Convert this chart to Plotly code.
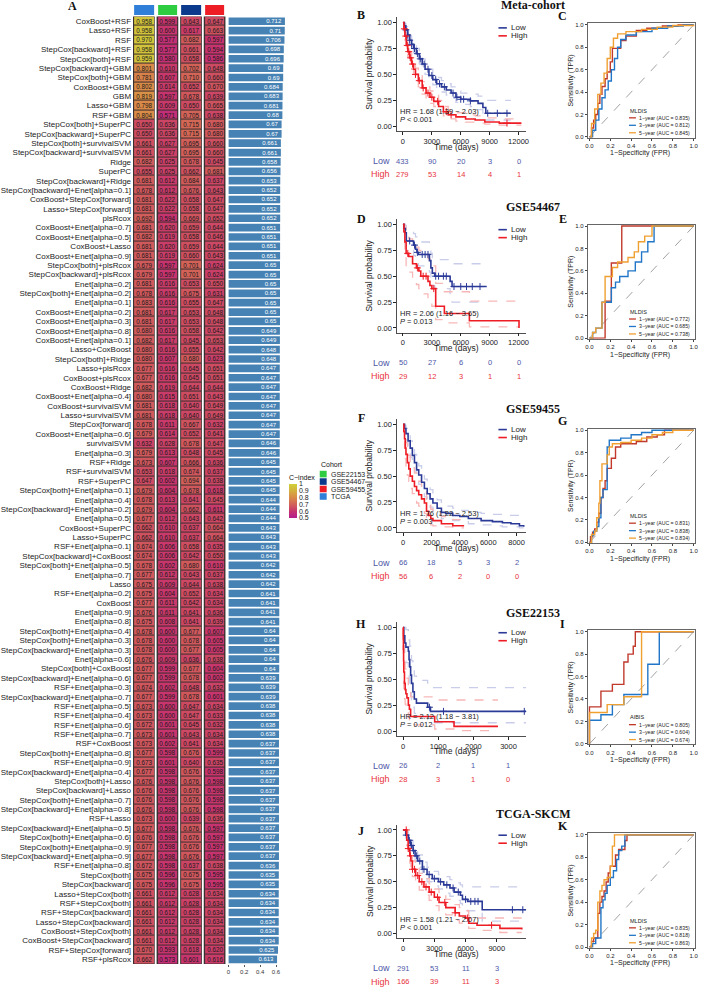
import numpy as np
import plotly.graph_objects as go

W, H = 702, 991
SANS = "Liberation Sans, Arial, sans-serif"
SERIF = "Liberation Serif, Times New Roman, serif"


def px(x):
    return x / W


def py(y):
    return 1 - y / H


# -----------------------------------------------------------------------------
# A: C-index heatmap data
models = [
    "CoxBoost+RSF", "Lasso+RSF", "RSF", "StepCox[backward]+RSF", "StepCox[both]+RSF",
    "StepCox[backward]+GBM", "StepCox[both]+GBM", "CoxBoost+GBM", "GBM", "Lasso+GBM",
    "RSF+GBM", "StepCox[both]+SuperPC", "StepCox[backward]+SuperPC",
    "StepCox[both]+survivalSVM", "StepCox[backward]+survivalSVM", "Ridge", "SuperPC",
    "StepCox[backward]+Ridge", "StepCox[backward]+Enet[alpha=0.1]",
    "CoxBoost+StepCox[forward]", "Lasso+StepCox[forward]", "plsRcox",
    "CoxBoost+Enet[alpha=0.7]", "CoxBoost+Enet[alpha=0.5]",
    "CoxBoost+Lasso", "CoxBoost+Enet[alpha=0.9]", "StepCox[both]+plsRcox",
    "StepCox[backward]+plsRcox", "Enet[alpha=0.2]", "StepCox[both]+Enet[alpha=0.2]",
    "Enet[alpha=0.1]", "CoxBoost+Enet[alpha=0.2]", "CoxBoost+Enet[alpha=0.3]",
    "CoxBoost+Enet[alpha=0.8]", "CoxBoost+Enet[alpha=0.1]", "Lasso+CoxBoost",
    "StepCox[both]+Ridge", "Lasso+plsRcox", "CoxBoost+plsRcox", "CoxBoost+Ridge",
    "CoxBoost+Enet[alpha=0.4]", "CoxBoost+survivalSVM", "Lasso+survivalSVM",
    "StepCox[forward]", "CoxBoost+Enet[alpha=0.6]", "survivalSVM", "Enet[alpha=0.3]",
    "RSF+Ridge",
    "RSF+survivalSVM", "RSF+SuperPC", "StepCox[both]+Enet[alpha=0.1]", "Enet[alpha=0.4]",
    "StepCox[backward]+Enet[alpha=0.2]", "Enet[alpha=0.5]", "CoxBoost+SuperPC",
    "Lasso+SuperPC", "RSF+Enet[alpha=0.1]", "StepCox[backward]+CoxBoost",
    "StepCox[both]+Enet[alpha=0.5]", "Enet[alpha=0.7]", "Lasso", "RSF+Enet[alpha=0.2]",
    "CoxBoost", "Enet[alpha=0.9]", "Enet[alpha=0.8]", "StepCox[both]+Enet[alpha=0.4]",
    "StepCox[both]+Enet[alpha=0.3]", "StepCox[backward]+Enet[alpha=0.3]",
    "Enet[alpha=0.6]", "StepCox[both]+CoxBoost", "StepCox[backward]+Enet[alpha=0.6]",
    "RSF+Enet[alpha=0.3]",
    "StepCox[backward]+Enet[alpha=0.7]", "RSF+Enet[alpha=0.5]", "RSF+Enet[alpha=0.4]",
    "RSF+Enet[alpha=0.6]", "RSF+Enet[alpha=0.7]", "RSF+CoxBoost",
    "StepCox[both]+Enet[alpha=0.8]", "RSF+Enet[alpha=0.9]",
    "StepCox[backward]+Enet[alpha=0.4]", "StepCox[both]+Lasso", "StepCox[backward]+Lasso",
    "StepCox[both]+Enet[alpha=0.7]", "StepCox[backward]+Enet[alpha=0.8]", "RSF+Lasso",
    "StepCox[backward]+Enet[alpha=0.5]", "StepCox[both]+Enet[alpha=0.6]",
    "StepCox[both]+Enet[alpha=0.9]", "StepCox[backward]+Enet[alpha=0.9]",
    "RSF+Enet[alpha=0.8]", "StepCox[both]", "StepCox[backward]", "Lasso+StepCox[both]",
    "RSF+StepCox[both]", "RSF+StepCox[backward]", "Lasso+StepCox[backward]",
    "CoxBoost+StepCox[both]", "CoxBoost+StepCox[backward]", "RSF+StepCox[forward]",
    "RSF+plsRcox",
]

c_tcga = [
    0.958, 0.958, 0.970, 0.958, 0.959, 0.801, 0.781, 0.802, 0.819, 0.798, 0.804, 0.650,
    0.650, 0.661, 0.661, 0.682, 0.655, 0.681, 0.678, 0.681, 0.681, 0.692, 0.681, 0.682,
    0.681, 0.681, 0.679, 0.679, 0.681, 0.678, 0.683, 0.681, 0.681, 0.680, 0.682, 0.680,
    0.680, 0.677, 0.677, 0.682, 0.680, 0.681, 0.681, 0.678, 0.679, 0.632, 0.679, 0.673,
    0.653, 0.647, 0.679, 0.678, 0.679, 0.677, 0.662, 0.662, 0.674, 0.674, 0.678, 0.677,
    0.675, 0.675, 0.677, 0.676, 0.675, 0.678, 0.678, 0.678, 0.676, 0.677, 0.677, 0.674,
    0.677, 0.673, 0.673, 0.672, 0.673, 0.673, 0.677, 0.673, 0.677, 0.676, 0.676, 0.676,
    0.676, 0.673, 0.677, 0.676, 0.677, 0.677, 0.672, 0.675, 0.675, 0.661, 0.661, 0.661,
    0.661, 0.661, 0.661, 0.670, 0.662,
]
c_gse22153 = [
    0.599, 0.600, 0.577, 0.577, 0.580, 0.610, 0.607, 0.614, 0.597, 0.609, 0.571, 0.636,
    0.636, 0.627, 0.627, 0.625, 0.625, 0.612, 0.612, 0.622, 0.622, 0.594, 0.620, 0.619,
    0.620, 0.619, 0.597, 0.597, 0.616, 0.616, 0.616, 0.617, 0.617, 0.616, 0.617, 0.616,
    0.607, 0.616, 0.616, 0.619, 0.615, 0.618, 0.618, 0.611, 0.614, 0.628, 0.613, 0.607,
    0.618, 0.602, 0.604, 0.613, 0.604, 0.612, 0.610, 0.610, 0.606, 0.606, 0.602, 0.612,
    0.609, 0.604, 0.611, 0.611, 0.608, 0.600, 0.600, 0.600, 0.609, 0.599, 0.599, 0.602,
    0.599, 0.600, 0.600, 0.601, 0.601, 0.602, 0.598, 0.601, 0.598, 0.598, 0.598, 0.598,
    0.598, 0.600, 0.598, 0.598, 0.598, 0.598, 0.598, 0.596, 0.596, 0.612, 0.612, 0.612,
    0.612, 0.612, 0.612, 0.593, 0.573,
]
c_gse54467 = [
    0.643, 0.617, 0.682, 0.661, 0.658, 0.702, 0.710, 0.652, 0.678, 0.650, 0.705, 0.715,
    0.715, 0.695, 0.695, 0.678, 0.662, 0.684, 0.676, 0.658, 0.658, 0.669, 0.659, 0.658,
    0.659, 0.660, 0.701, 0.701, 0.653, 0.675, 0.655, 0.653, 0.653, 0.658, 0.645, 0.655,
    0.680, 0.645, 0.645, 0.644, 0.651, 0.640, 0.640, 0.667, 0.652, 0.678, 0.648, 0.666,
    0.674, 0.694, 0.678, 0.641, 0.662, 0.643, 0.637, 0.637, 0.658, 0.642, 0.680, 0.643,
    0.644, 0.652, 0.642, 0.641, 0.641, 0.677, 0.678, 0.677, 0.636, 0.677, 0.678, 0.648,
    0.678, 0.647, 0.647, 0.645, 0.643, 0.641, 0.676, 0.640, 0.676, 0.676, 0.676, 0.676,
    0.676, 0.639, 0.676, 0.676, 0.676, 0.676, 0.637, 0.675, 0.675, 0.628, 0.628, 0.628,
    0.628, 0.628, 0.628, 0.618, 0.601,
]
c_gse59455 = [
    0.647, 0.663, 0.597, 0.594, 0.586, 0.648, 0.660, 0.670, 0.639, 0.665, 0.638, 0.680,
    0.680, 0.660, 0.660, 0.645, 0.681, 0.637, 0.643, 0.647, 0.647, 0.652, 0.644, 0.646,
    0.644, 0.643, 0.624, 0.624, 0.650, 0.631, 0.647, 0.648, 0.648, 0.642, 0.653, 0.642,
    0.623, 0.651, 0.651, 0.644, 0.643, 0.649, 0.649, 0.632, 0.641, 0.647, 0.645, 0.636,
    0.637, 0.638, 0.618, 0.645, 0.611, 0.642, 0.664, 0.664, 0.635, 0.650, 0.610, 0.637,
    0.638, 0.634, 0.634, 0.636, 0.639, 0.607, 0.605, 0.605, 0.638, 0.604, 0.602, 0.632,
    0.601, 0.634, 0.633, 0.632, 0.634, 0.634, 0.599, 0.635, 0.598, 0.598, 0.598, 0.598,
    0.598, 0.636, 0.597, 0.597, 0.597, 0.597, 0.638, 0.595, 0.595, 0.634, 0.634, 0.634,
    0.634, 0.634, 0.634, 0.620, 0.616,
]
mean_cindex = [
    0.712, 0.71, 0.706, 0.698, 0.696, 0.69, 0.69, 0.684, 0.683, 0.681, 0.68, 0.67,
    0.67, 0.661, 0.661, 0.658, 0.656, 0.653, 0.652, 0.652, 0.652, 0.652, 0.651, 0.651,
    0.651, 0.651, 0.65, 0.65, 0.65, 0.65, 0.65, 0.65, 0.65, 0.649, 0.649, 0.648,
    0.648, 0.647, 0.647, 0.647, 0.647, 0.647, 0.647, 0.647, 0.647, 0.646, 0.646, 0.645,
    0.645, 0.645, 0.645, 0.644, 0.644, 0.644, 0.643, 0.643, 0.643, 0.643, 0.642, 0.642,
    0.642, 0.641, 0.641, 0.641, 0.641, 0.64, 0.64, 0.64, 0.64, 0.64, 0.639, 0.639,
    0.639, 0.638, 0.638, 0.638, 0.638, 0.637, 0.637, 0.637, 0.637, 0.637, 0.637, 0.637,
    0.637, 0.637, 0.637, 0.637, 0.637, 0.637, 0.636, 0.635, 0.635, 0.634, 0.634, 0.634,
    0.634, 0.634, 0.634, 0.625, 0.613,
]

heat_cohorts = ["TCGA", "GSE22153", "GSE54467", "GSE59455"]
legend_cohorts = ["GSE22153", "GSE54467", "GSE59455", "TCGA"]
cohort_colors = {"GSE22153": "#2ecc40", "GSE54467": "#0b3a8c",
                 "GSE59455": "#ee1c25", "TCGA": "#2f7ed8"}
cindex_ticks = [0.5, 0.6, 0.7, 0.8, 0.9, 1.0]

# -----------------------------------------------------------------------------
# B/D/F/H/J: Kaplan-Meier data (time in days, survival, CI upper / lower)
meta_low_t = [0, 150, 300, 500, 700, 900, 1100, 1400, 1700, 2000, 2300, 2700, 3100, 3500,
              4000, 4500, 5000, 5500, 6000, 7000, 7800, 8300, 8600, 11200]
meta_low_s = [1.0, 0.97, 0.93, 0.88, 0.83, 0.79, 0.75, 0.70, 0.65, 0.60, 0.55, 0.49, 0.45,
              0.41, 0.38, 0.35, 0.32, 0.28, 0.26, 0.245, 0.22, 0.18, 0.125, 0.125]
meta_low_up = [1.0, 0.99, 0.96, 0.92, 0.87, 0.83, 0.80, 0.75, 0.70, 0.65, 0.60, 0.55, 0.51,
               0.47, 0.44, 0.41, 0.38, 0.34, 0.32, 0.31, 0.29, 0.26, 0.25, 0.25]
meta_low_dn = [1.0, 0.95, 0.90, 0.84, 0.79, 0.75, 0.71, 0.66, 0.60, 0.55, 0.50, 0.44, 0.40,
               0.36, 0.33, 0.30, 0.27, 0.23, 0.21, 0.19, 0.16, 0.12, 0.06, 0.06]
meta_high_t = [0, 100, 200, 350, 500, 700, 900, 1100, 1300, 1600, 2000, 2400, 2800, 3200,
               3700, 4200, 4700, 5500, 6500, 7500, 8500, 10000, 12300]
meta_high_s = [1.0, 0.94, 0.87, 0.78, 0.72, 0.66, 0.60, 0.55, 0.50, 0.44, 0.37, 0.32, 0.28,
               0.24, 0.19, 0.14, 0.11, 0.09, 0.07, 0.06, 0.04, 0.03, 0.03]
meta_high_up = [1.0, 0.97, 0.91, 0.83, 0.77, 0.71, 0.65, 0.60, 0.56, 0.50, 0.43, 0.38, 0.34,
                0.30, 0.25, 0.19, 0.16, 0.13, 0.11, 0.10, 0.08, 0.07, 0.07]
meta_high_dn = [1.0, 0.91, 0.83, 0.73, 0.67, 0.61, 0.55, 0.49, 0.44, 0.38, 0.31, 0.26, 0.22,
                0.19, 0.14, 0.10, 0.07, 0.05, 0.04, 0.03, 0.02, 0.01, 0.01]
meta_low_cens = [300, 500, 700, 900, 1200, 1500, 1800, 2200, 2600, 3000, 3400, 3800, 4300,
                 5200, 5600, 6000, 6300, 7000, 8800, 9800, 10800]
meta_high_cens = [150, 300, 450, 600, 800, 1000, 1300, 1700, 2100, 2600, 3000, 3600, 4500,
                  5000, 10800]

gse54467_low_t = [0, 100, 250, 350, 1100, 1300, 1450, 1600, 2750, 2900, 3050, 3300, 4900,
                  5100, 8700]
gse54467_low_s = [1.0, 0.96, 0.92, 0.84, 0.80, 0.76, 0.73, 0.71, 0.65, 0.58, 0.53, 0.50,
                  0.45, 0.40, 0.40]
gse54467_low_up = [1.0, 1.0, 0.99, 0.94, 0.91, 0.88, 0.86, 0.83, 0.78, 0.72, 0.68, 0.66,
                   0.62, 0.62, 0.62]
gse54467_low_dn = [1.0, 0.91, 0.85, 0.75, 0.70, 0.66, 0.62, 0.60, 0.54, 0.46, 0.41, 0.38,
                   0.32, 0.25, 0.25]
gse54467_high_t = [0, 100, 200, 330, 600, 1000, 1400, 1650, 1850, 2600, 2800, 3000, 3400,
                   4300, 6900, 12050]
gse54467_high_s = [1.0, 0.93, 0.83, 0.72, 0.69, 0.62, 0.58, 0.55, 0.50, 0.45, 0.41, 0.38,
                   0.21, 0.14, 0.07, 0.0]
gse54467_high_up = [1.0, 1.0, 0.97, 0.89, 0.86, 0.81, 0.78, 0.75, 0.71, 0.67, 0.63, 0.60,
                    0.43, 0.35, 0.26, 0.26]
gse54467_high_dn = [1.0, 0.84, 0.70, 0.57, 0.54, 0.46, 0.42, 0.38, 0.33, 0.28, 0.24, 0.21,
                    0.08, 0.05, 0.01, 0.01]
gse54467_low_cens = [700, 1200, 1500, 2000, 2300, 2600, 3400, 3700, 4200, 4500, 5300, 6000,
                     6600, 7200, 8000]
gse54467_high_cens = [500, 1500, 2100, 2400, 3200]

gse59455_low_t = [0, 100, 200, 350, 500, 650, 800, 950, 1100, 1300, 1500, 1700, 1900, 2100,
                  2400, 2700, 3000, 3500, 4000, 4600, 5500, 6300, 7000, 7600, 8200, 8500]
gse59455_low_s = [1.0, 0.96, 0.91, 0.84, 0.77, 0.70, 0.63, 0.56, 0.51, 0.44, 0.38, 0.33,
                  0.28, 0.24, 0.19, 0.15, 0.14, 0.12, 0.11, 0.09, 0.07, 0.06, 0.05, 0.04,
                  0.02, 0.01]
gse59455_low_up = [1.0, 0.99, 0.96, 0.90, 0.84, 0.78, 0.71, 0.65, 0.60, 0.53, 0.47, 0.42,
                   0.37, 0.32, 0.27, 0.23, 0.21, 0.19, 0.17, 0.15, 0.14, 0.13, 0.12, 0.12,
                   0.11, 0.10]
gse59455_low_dn = [1.0, 0.91, 0.85, 0.76, 0.68, 0.61, 0.54, 0.47, 0.42, 0.35, 0.30, 0.25,
                   0.20, 0.17, 0.13, 0.09, 0.08, 0.07, 0.06, 0.04, 0.03, 0.02, 0.01, 0.01,
                   0.0, 0.0]
gse59455_high_t = [0, 50, 100, 150, 200, 300, 400, 500, 650, 800, 950, 1100, 1300, 1500,
                   1650, 1800, 1950, 2100, 2700, 3500, 4300]
gse59455_high_s = [1.0, 0.93, 0.86, 0.77, 0.71, 0.63, 0.57, 0.50, 0.45, 0.40, 0.36, 0.32,
                   0.28, 0.24, 0.16, 0.12, 0.09, 0.07, 0.04, 0.02, 0.02]
gse59455_high_up = [1.0, 0.98, 0.94, 0.87, 0.82, 0.75, 0.70, 0.63, 0.58, 0.53, 0.49, 0.45,
                    0.40, 0.36, 0.27, 0.22, 0.18, 0.15, 0.11, 0.08, 0.08]
gse59455_high_dn = [1.0, 0.87, 0.78, 0.67, 0.60, 0.51, 0.45, 0.38, 0.33, 0.28, 0.24, 0.21,
                    0.17, 0.14, 0.08, 0.05, 0.03, 0.02, 0.01, 0.0, 0.0]
gse59455_low_cens = []
gse59455_high_cens = []

gse22153_low_t = [0, 20, 50, 80, 150, 170, 190, 215, 240, 280, 320, 380, 700, 780, 3500]
gse22153_low_s = [1.0, 0.92, 0.85, 0.81, 0.77, 0.69, 0.62, 0.54, 0.46, 0.38, 0.31, 0.27,
                  0.23, 0.19, 0.19]
gse22153_low_up = [1.0, 1.0, 1.0, 0.98, 0.95, 0.88, 0.82, 0.75, 0.68, 0.60, 0.53, 0.49,
                   0.45, 0.42, 0.42]
gse22153_low_dn = [1.0, 0.82, 0.72, 0.66, 0.61, 0.52, 0.45, 0.37, 0.30, 0.23, 0.17, 0.14,
                   0.11, 0.08, 0.08]
gse22153_high_t = [0, 5, 10, 15, 20, 40, 60, 80, 110, 150, 180, 215, 900, 1450, 2700]
gse22153_high_s = [1.0, 0.89, 0.79, 0.68, 0.57, 0.46, 0.40, 0.36, 0.32, 0.25, 0.21, 0.14,
                   0.09, 0.045, 0.045]
gse22153_high_up = [1.0, 0.99, 0.94, 0.86, 0.76, 0.66, 0.60, 0.55, 0.51, 0.44, 0.40, 0.33,
                    0.30, 0.30, 0.30]
gse22153_high_dn = [1.0, 0.78, 0.64, 0.52, 0.41, 0.31, 0.26, 0.22, 0.19, 0.13, 0.10, 0.06,
                    0.02, 0.005, 0.005]
gse22153_low_cens = [750, 1150, 3450]
gse22153_high_cens = []

tcga_low_t = [0, 250, 500, 730, 950, 1150, 1400, 1850, 2300, 2800, 3400, 3900, 4500, 4900,
              5500, 5700, 6200, 7600, 11800]
tcga_low_s = [1.0, 0.95, 0.90, 0.85, 0.80, 0.75, 0.70, 0.62, 0.57, 0.53, 0.50, 0.47, 0.44,
              0.40, 0.37, 0.33, 0.31, 0.23, 0.23]
tcga_low_up = [1.0, 0.98, 0.94, 0.90, 0.85, 0.81, 0.76, 0.69, 0.64, 0.60, 0.57, 0.55, 0.52,
               0.49, 0.47, 0.45, 0.45, 0.45, 0.45]
tcga_low_dn = [1.0, 0.92, 0.86, 0.80, 0.75, 0.69, 0.64, 0.56, 0.50, 0.46, 0.43, 0.39, 0.36,
               0.32, 0.29, 0.24, 0.22, 0.12, 0.12]
tcga_high_t = [0, 350, 480, 640, 750, 890, 1200, 1550, 2000, 2500, 3000, 3450, 4100, 5000,
               5400, 6000, 6300, 7100, 9300, 11400]
tcga_high_s = [1.0, 0.90, 0.82, 0.75, 0.70, 0.62, 0.56, 0.50, 0.45, 0.40, 0.35, 0.30, 0.25,
               0.20, 0.17, 0.15, 0.10, 0.08, 0.05, 0.04]
tcga_high_up = [1.0, 0.95, 0.88, 0.82, 0.77, 0.70, 0.64, 0.58, 0.53, 0.48, 0.43, 0.38, 0.33,
                0.28, 0.25, 0.22, 0.17, 0.15, 0.15, 0.15]
tcga_high_dn = [1.0, 0.85, 0.76, 0.68, 0.63, 0.55, 0.48, 0.42, 0.37, 0.32, 0.27, 0.22, 0.18,
                0.13, 0.10, 0.08, 0.05, 0.03, 0.01, 0.01]
tcga_low_cens = [300, 600, 800, 1000, 1300, 1600, 2000, 2500, 3000, 3600, 4200, 4800, 5300,
                 6000, 6500, 6900, 7200, 10500, 11500]
tcga_high_cens = [300, 500, 700, 900, 1100, 1400, 1800, 2200, 2700, 3300, 4000, 5000, 6200,
                  8500]

# number at risk tables
meta_risk_t = [0, 3000, 6000, 9000, 12000]
meta_risk_low = [433, 90, 20, 3, 0]
meta_risk_high = [279, 53, 14, 4, 1]
gse54467_risk_t = [0, 3000, 6000, 9000, 12000]
gse54467_risk_low = [50, 27, 6, 0, 0]
gse54467_risk_high = [29, 12, 3, 1, 1]
gse59455_risk_t = [0, 2000, 4000, 6000, 8000]
gse59455_risk_low = [66, 18, 5, 3, 2]
gse59455_risk_high = [56, 6, 2, 0, 0]
gse22153_risk_t = [0, 1000, 2000, 3000]
gse22153_risk_low = [26, 2, 1, 1]
gse22153_risk_high = [28, 3, 1, 0]
tcga_risk_t = [0, 3000, 6000, 9000]
tcga_risk_low = [291, 53, 11, 3]
tcga_risk_high = [166, 39, 11, 3]

hr_text = ["HR = 1.68 (1.39 − 2.03)", "HR = 2.06 (1.16 − 3.65)", "HR = 1.76 (1.22 − 2.53)",
           "HR = 2.12 (1.18 − 3.81)", "HR = 1.58 (1.21 − 2.07)"]
p_text = ["&lt; 0.001", "= 0.013", "= 0.003", "= 0.012", "&lt; 0.001"]

# -----------------------------------------------------------------------------
# C/E/G/I/K: time-dependent ROC data
meta_roc1_fpr = [0, 0.02, 0.04, 0.06, 0.08, 0.10, 0.12, 0.15, 0.17, 0.20, 0.22, 0.27, 0.30,
                 0.35, 0.45, 0.55, 0.70, 0.85, 1.0]
meta_roc1_tpr = [0, 0.08, 0.15, 0.20, 0.30, 0.38, 0.45, 0.52, 0.58, 0.67, 0.79, 0.79, 0.86,
                 0.90, 0.95, 0.97, 0.99, 1.0, 1.0]
meta_roc3_fpr = [0, 0.03, 0.06, 0.09, 0.12, 0.15, 0.18, 0.21, 0.24, 0.27, 0.30, 0.35, 0.45,
                 0.60, 0.75, 0.90, 1.0]
meta_roc3_tpr = [0, 0.06, 0.15, 0.25, 0.35, 0.42, 0.50, 0.60, 0.70, 0.80, 0.87, 0.91, 0.94,
                 0.97, 0.99, 1.0, 1.0]
meta_roc5_fpr = [0, 0.02, 0.05, 0.08, 0.11, 0.14, 0.17, 0.20, 0.23, 0.27, 0.35, 0.50, 0.65,
                 0.80, 1.0]
meta_roc5_tpr = [0, 0.12, 0.25, 0.38, 0.48, 0.57, 0.70, 0.80, 0.88, 0.92, 0.94, 0.96, 0.98,
                 0.995, 1.0]
meta_auc = [0.835, 0.812, 0.845]

gse54467_roc1_fpr = [0, 0.15, 0.21, 0.31, 1.0]
gse54467_roc1_tpr = [0, 0.33, 0.67, 1.0, 1.0]
gse54467_roc3_fpr = [0, 0.03, 0.06, 0.12, 0.21, 0.25, 0.29, 0.37, 0.44, 0.50, 0.56, 0.62, 1.0]
gse54467_roc3_tpr = [0, 0.05, 0.09, 0.32, 0.45, 0.50, 0.55, 0.60, 0.68, 0.77, 0.86, 1.0, 1.0]
gse54467_roc5_fpr = [0, 0.03, 0.06, 0.12, 0.15, 0.22, 0.27, 0.37, 0.43, 0.47, 0.53, 0.60, 1.0]
gse54467_roc5_tpr = [0, 0.05, 0.09, 0.32, 0.55, 0.63, 0.68, 0.72, 0.77, 0.86, 0.91, 1.0, 1.0]
gse54467_auc = [0.772, 0.685, 0.738]

gse59455_roc1_fpr = [0, 0.01, 0.03, 0.05, 0.07, 0.09, 0.11, 0.13, 0.15, 0.17, 0.19, 0.21,
                     0.25, 0.30, 0.35, 0.45, 0.55, 0.65, 0.72, 1.0]
gse59455_roc1_tpr = [0, 0.05, 0.09, 0.12, 0.18, 0.26, 0.40, 0.48, 0.55, 0.66, 0.66, 0.75,
                     0.85, 0.88, 0.88, 0.90, 0.94, 0.96, 1.0, 1.0]
gse59455_roc3_fpr = [0, 0.02, 0.04, 0.07, 0.09, 0.11, 0.13, 0.15, 0.17, 0.19, 0.22, 0.30,
                     0.40, 0.50, 0.60, 1.0]
gse59455_roc3_tpr = [0, 0.06, 0.10, 0.14, 0.22, 0.40, 0.47, 0.47, 0.85, 0.91, 0.91, 0.93,
                     0.96, 0.98, 1.0, 1.0]
gse59455_roc5_fpr = [0, 0.02, 0.05, 0.07, 0.09, 0.10, 0.12, 0.14, 0.17, 0.19, 0.22, 0.30,
                     0.40, 0.50, 0.60, 0.70, 0.80, 1.0]
gse59455_roc5_tpr = [0, 0.07, 0.10, 0.22, 0.35, 0.55, 0.70, 0.70, 0.78, 0.85, 0.88, 0.89,
                     0.91, 0.93, 0.96, 0.98, 1.0, 1.0]
gse59455_auc = [0.831, 0.838, 0.834]

gse22153_roc1_fpr = [0, 0.0, 0.11, 0.22, 0.33, 0.37, 0.42, 0.44, 1.0]
gse22153_roc1_tpr = [0, 0.33, 0.47, 0.53, 0.73, 0.80, 0.87, 1.0, 1.0]
gse22153_roc3_fpr = [0, 0.0, 0.11, 0.22, 0.33, 0.56, 0.67, 1.0]
gse22153_roc3_tpr = [0, 0.21, 0.26, 0.35, 0.44, 0.71, 1.0, 1.0]
gse22153_roc5_fpr = [0, 0.0, 0.17, 0.33, 0.50, 1.0]
gse22153_roc5_tpr = [0, 0.28, 0.35, 0.42, 1.0, 1.0]
gse22153_auc = [0.805, 0.604, 0.674]

tcga_roc1_fpr = [0, 0.02, 0.04, 0.06, 0.08, 0.10, 0.12, 0.14, 0.16, 0.18, 0.20, 0.22, 0.25,
                 0.28, 0.30, 0.34, 0.36, 1.0]
tcga_roc1_tpr = [0, 0.05, 0.08, 0.08, 0.30, 0.40, 0.45, 0.50, 0.58, 0.66, 0.72, 0.72, 0.82,
                 0.87, 0.87, 0.95, 1.0, 1.0]
tcga_roc3_fpr = [0, 0.03, 0.06, 0.09, 0.11, 0.13, 0.15, 0.17, 0.20, 0.23, 0.26, 0.28, 0.31,
                 0.34, 1.0]
tcga_roc3_tpr = [0, 0.03, 0.08, 0.08, 0.35, 0.42, 0.48, 0.55, 0.62, 0.68, 0.78, 0.86, 0.90,
                 1.0, 1.0]
tcga_roc5_fpr = [0, 0.02, 0.04, 0.06, 0.08, 0.10, 0.12, 0.14, 0.17, 0.20, 0.22, 0.24, 1.0]
tcga_roc5_tpr = [0, 0.08, 0.12, 0.15, 0.40, 0.50, 0.55, 0.60, 0.62, 0.72, 0.90, 1.0, 1.0]
tcga_auc = [0.835, 0.818, 0.863]

roc_years = ["1−year", "3−year", "5−year"]
roc_colors = ["#c0392b", "#2176c7", "#f0a030"]

# -----------------------------------------------------------------------------
# panels, top to bottom
panels = [
    dict(title="Meta-cohort", letters=("B", "C"), model="MLDIS",
         low=(meta_low_t, meta_low_s, meta_low_up, meta_low_dn, meta_low_cens),
         high=(meta_high_t, meta_high_s, meta_high_up, meta_high_dn, meta_high_cens),
         risk=(meta_risk_t, meta_risk_low, meta_risk_high), xrange=[-600, 12800],
         roc=[(meta_roc1_fpr, meta_roc1_tpr), (meta_roc3_fpr, meta_roc3_tpr),
              (meta_roc5_fpr, meta_roc5_tpr)], auc=meta_auc),
    dict(title="GSE54467", letters=("D", "E"), model="MLDIS",
         low=(gse54467_low_t, gse54467_low_s, gse54467_low_up, gse54467_low_dn,
              gse54467_low_cens),
         high=(gse54467_high_t, gse54467_high_s, gse54467_high_up, gse54467_high_dn,
               gse54467_high_cens),
         risk=(gse54467_risk_t, gse54467_risk_low, gse54467_risk_high), xrange=[-600, 12800],
         roc=[(gse54467_roc1_fpr, gse54467_roc1_tpr), (gse54467_roc3_fpr, gse54467_roc3_tpr),
              (gse54467_roc5_fpr, gse54467_roc5_tpr)], auc=gse54467_auc),
    dict(title="GSE59455", letters=("F", "G"), model="MLDIS",
         low=(gse59455_low_t, gse59455_low_s, gse59455_low_up, gse59455_low_dn,
              gse59455_low_cens),
         high=(gse59455_high_t, gse59455_high_s, gse59455_high_up, gse59455_high_dn,
               gse59455_high_cens),
         risk=(gse59455_risk_t, gse59455_risk_low, gse59455_risk_high), xrange=[-420, 8680],
         roc=[(gse59455_roc1_fpr, gse59455_roc1_tpr), (gse59455_roc3_fpr, gse59455_roc3_tpr),
              (gse59455_roc5_fpr, gse59455_roc5_tpr)], auc=gse59455_auc),
    dict(title="GSE22153", letters=("H", "I"), model="AIBIS",
         low=(gse22153_low_t, gse22153_low_s, gse22153_low_up, gse22153_low_dn,
              gse22153_low_cens),
         high=(gse22153_high_t, gse22153_high_s, gse22153_high_up, gse22153_high_dn,
               gse22153_high_cens),
         risk=(gse22153_risk_t, gse22153_risk_low, gse22153_risk_high), xrange=[-168, 3505],
         roc=[(gse22153_roc1_fpr, gse22153_roc1_tpr), (gse22153_roc3_fpr, gse22153_roc3_tpr),
              (gse22153_roc5_fpr, gse22153_roc5_tpr)], auc=gse22153_auc),
    dict(title="TCGA-SKCM", letters=("J", "K"), model="MLDIS",
         low=(tcga_low_t, tcga_low_s, tcga_low_up, tcga_low_dn, tcga_low_cens),
         high=(tcga_high_t, tcga_high_s, tcga_high_up, tcga_high_dn, tcga_high_cens),
         risk=(tcga_risk_t, tcga_risk_low, tcga_risk_high), xrange=[-573, 11830],
         roc=[(tcga_roc1_fpr, tcga_roc1_tpr), (tcga_roc3_fpr, tcga_roc3_tpr),
              (tcga_roc5_fpr, tcga_roc5_tpr)], auc=tcga_auc),
]

# pixel layout of the right-hand panels
km_top = [21.7, 224.3, 425, 629, 832.3]      # y pixel of survival = 1
roc_top = [24, 226, 431, 633.3, 837.3]       # y pixel of TPR = 1
title_y = [4.5, 206.7, 409.3, 614.3, 816.7]
letter_left_y = [14, 219, 419, 626, 833]
letter_right_y = [15, 219, 422, 626, 828]
KM_UNIT, ROC_UNIT = 104, 112.5

LOW_C, HIGH_C = "#2b3a97", "#ee1c25"
LOW_CI, HIGH_CI = "#c9cde9", "#f7b7b7"
LOW_TXT, HIGH_TXT = "#4d57a8", "#e8323c"

fig = go.Figure()
annotations = []
shapes = []
axes = {}


def ann(text, x, y, size=8, color="#222", family=SANS, xanchor="center", yanchor="middle",
        xref="paper", angle=0, bold=False):
    if bold:
        text = "<b>" + text + "</b>"
    annotations.append(dict(text=text, x=x, y=y, xref=xref, yref="paper", showarrow=False,
                            xanchor=xanchor, yanchor=yanchor, textangle=angle,
                            font=dict(size=size, color=color, family=family)))


# -----------------------------------------------------------------------------
# A: heatmap
cindex_scale = [[0.0, "#b41e8e"], [0.2, "#c8346d"], [0.36, "#d0595c"], [0.6, "#d98a48"],
                [0.8, "#d4b03e"], [1.0, "#cfd13a"]]
z = np.array([c_tcga, c_gse22153, c_gse54467, c_gse59455]).T
n_rows = len(models)
fig.add_trace(go.Heatmap(
    z=z, x=list(range(4)), y=list(range(n_rows)), colorscale=cindex_scale, zmin=0.5, zmax=1.0,
    xgap=4, ygap=1, texttemplate="%{z:.3f}",
    textfont=dict(size=6.3, color="#1a1a1a", family=SANS), hoverinfo="skip",
    colorbar=dict(x=px(289), xanchor="left", y=py(496), yanchor="middle", len=46,
                  lenmode="pixels", thickness=8, thicknessmode="pixels",
                  tickvals=cindex_ticks, ticktext=["0.5", "0.6", "0.7", "0.8", "0.9", "1"],
                  tickfont=dict(size=7, family=SANS, color="#222"), ticks="",
                  outlinewidth=0, xpad=0, ypad=0,
                  title=dict(text="C−index", side="top",
                             font=dict(size=7, family=SANS, color="#111"))),
    xaxis="x", yaxis="y"))
for i in range(4):
    shapes.append(dict(type="rect", xref="x", yref="y", x0=i - 0.46, x1=i + 0.46,
                       y0=-0.55, y1=n_rows - 0.45, fillcolor="#3a2f2f", line_width=0,
                       layer="below"))
axes["xaxis"] = dict(domain=[px(131), px(226)], range=[-0.5, 3.5], visible=False)
axes["yaxis"] = dict(domain=[py(967), py(15.6)], range=[n_rows - 0.5, -0.5],
                     tickmode="array", tickvals=list(range(n_rows)), ticktext=models,
                     tickfont=dict(size=8, color="#222", family=SANS), ticks="",
                     showgrid=False, zeroline=False, showline=False)

# cohort strip on top
strip_cols = [cohort_colors[c] for c in heat_cohorts]
strip_scale = [[0, strip_cols[0]], [1 / 6, strip_cols[0]], [1 / 6, strip_cols[1]],
               [0.5, strip_cols[1]], [0.5, strip_cols[2]], [5 / 6, strip_cols[2]],
               [5 / 6, strip_cols[3]], [1, strip_cols[3]]]
fig.add_trace(go.Heatmap(z=[list(range(4))], x=list(range(4)), y=[0], colorscale=strip_scale,
                         zmin=0, zmax=3, showscale=False, xgap=4, hoverinfo="skip",
                         xaxis="x2", yaxis="y2"))
axes["xaxis2"] = dict(domain=[px(131), px(226)], range=[-0.5, 3.5], visible=False)
axes["yaxis2"] = dict(domain=[py(14), py(4)], range=[-0.5, 0.5], visible=False)

# mean C-index bars
fig.add_trace(go.Bar(x=mean_cindex, y=list(range(n_rows)), orientation="h", width=0.82,
                     marker=dict(color="#4682b4", line_width=0),
                     text=[str(v) for v in mean_cindex], textposition="inside",
                     insidetextanchor="end", textangle=0, constraintext="none",
                     textfont=dict(size=6, color="white", family=SANS), hoverinfo="skip",
                     xaxis="x3", yaxis="y3"))
axes["xaxis3"] = dict(domain=[px(228), px(300)], range=[0, 0.9], tickvals=[0, 0.2, 0.4, 0.6],
                      ticktext=["0", "0.2", "0.4", "0.6"], ticks="outside", ticklen=2,
                      tickcolor="#555", tickfont=dict(size=6, family=SANS, color="#333"),
                      showgrid=False, zeroline=False, showline=False, anchor="y3")
axes["yaxis3"] = dict(domain=[py(967), py(15.6)], range=[n_rows - 0.5, -0.5], visible=False)

# cohort legend
ann("Cohort", px(319), py(465), size=7, color="#111", xanchor="left")
for k, c in enumerate(legend_cohorts):
    yy = 475 + 7.5 * k
    shapes.append(dict(type="rect", xref="paper", yref="paper", x0=px(320), x1=px(327),
                       y0=py(yy + 3.3), y1=py(yy - 3.3), fillcolor=cohort_colors[c],
                       line_width=0))
    ann(c, px(329.5), py(yy), size=7, color="#222", xanchor="left")

ann("A", px(71), py(5), size=12, color="#111", family=SERIF, bold=True)


# -----------------------------------------------------------------------------
# KM + ROC panels
def step_at(t, s, x):
    idx = np.searchsorted(np.asarray(t), np.asarray(x), side="right") - 1
    return np.asarray(s)[np.clip(idx, 0, len(s) - 1)]


for k, p in enumerate(panels):
    xa, ya = f"x{4 + k}", f"y{4 + k}"
    y1 = km_top[k]
    y0 = y1 + KM_UNIT
    for grp, col, ci in (("low", LOW_C, LOW_CI), ("high", HIGH_C, HIGH_CI)):
        t, s, up, dn, cens = p[grp]
        for band in (up, dn):
            fig.add_trace(go.Scatter(x=t, y=band, mode="lines", hoverinfo="skip",
                                     line=dict(color=ci, width=1.3, dash="dash", shape="hv"),
                                     xaxis=xa, yaxis=ya))
    for grp, col in (("low", LOW_C), ("high", HIGH_C)):
        t, s, up, dn, cens = p[grp]
        fig.add_trace(go.Scatter(x=t, y=s, mode="lines", hoverinfo="skip",
                                 line=dict(color=col, width=1.6, shape="hv"),
                                 xaxis=xa, yaxis=ya))
        if len(cens):
            fig.add_trace(go.Scatter(x=cens, y=step_at(t, s, cens), mode="markers",
                                     hoverinfo="skip",
                                     marker=dict(symbol="cross-thin", size=5,
                                                 line=dict(color=col, width=1)),
                                     xaxis=xa, yaxis=ya))
    risk_t, risk_low, risk_high = p["risk"]
    axes[f"xaxis{4 + k}"] = dict(
        domain=[px(398), px(528)], range=p["xrange"], tickvals=risk_t,
        ticktext=[str(v) for v in risk_t],
        ticks="outside", ticklen=3, tickcolor="#222", showline=True, linecolor="#222",
        linewidth=0.8, showgrid=False, zeroline=False, anchor=ya,
        tickfont=dict(size=7.5, family=SANS, color="#222"))
    axes[f"yaxis{4 + k}"] = dict(
        domain=[py(y0 + 4.7), py(y1 - 5.2)], range=[-0.045, 1.05],
        tickvals=[0, 0.25, 0.5, 0.75, 1.0], ticktext=["0.00", "0.25", "0.50", "0.75", "1.00"],
        ticks="outside", ticklen=3, tickcolor="#222", showline=True, linecolor="#222",
        linewidth=0.8, showgrid=False, zeroline=False, anchor=xa,
        tickfont=dict(size=7.5, family=SANS, color="#222"))

    # titles and labels
    ann(p["title"], px(535), py(title_y[k]), size=12, color="#111", family=SERIF, bold=True)
    ann(p["letters"][0], px(362), py(letter_left_y[k]), size=12, color="#111", family=SERIF,
        bold=True)
    ann(p["letters"][1], px(565), py(letter_right_y[k]), size=12, color="#111", family=SERIF,
        bold=True)
    ann("Survival probability", px(370), py(y1 + 51), size=8.5, angle=-90)
    ann("Time (days)", px(458), py(y1 + 124.5), size=8.5)
    ann(hr_text[k], px(399), py(y1 + 89.5), size=7.5, xanchor="left")
    ann("<i>P</i> " + p_text[k], px(399), py(y1 + 97.5), size=7.5, xanchor="left")

    # legend
    for j, (lab, col) in enumerate((("Low", LOW_C), ("High", HIGH_C))):
        yy = y1 + 5.3 + 8 * j
        shapes.append(dict(type="line", xref="paper", yref="paper", x0=px(500), x1=px(508.5),
                           y0=py(yy), y1=py(yy), line=dict(color=col, width=1.6)))
        ann(lab, px(511), py(yy), size=8, xanchor="left")

    # number at risk
    for j, (lab, vals, col) in enumerate((("Low", risk_low, LOW_TXT),
                                          ("High", risk_high, HIGH_TXT))):
        yy = y1 + 139 + 13.5 * j
        ann(lab, px(392.5), py(yy), size=9, color=col, xanchor="right")
        for tv, v in zip(risk_t, vals):
            ann(str(v), tv, py(yy), size=7.5, color=col, xref=xa)

    # ROC
    rx, ry = f"x{9 + k}", f"y{9 + k}"
    r1 = roc_top[k]
    r0 = r1 + ROC_UNIT
    fig.add_trace(go.Scatter(x=[0, 1], y=[0, 1], mode="lines", hoverinfo="skip",
                             line=dict(color="#8a8a8a", width=0.8, dash="dash"),
                             xaxis=rx, yaxis=ry))
    for (fpr, tpr), col in zip(p["roc"], roc_colors):
        fig.add_trace(go.Scatter(x=fpr, y=tpr, mode="lines", hoverinfo="skip",
                                 line=dict(color=col, width=1.4, shape="hv"),
                                 xaxis=rx, yaxis=ry))
    roc_ticks = [0, 0.2, 0.4, 0.6, 0.8, 1.0]
    roc_labels = ["0.0", "0.2", "0.4", "0.6", "0.8", "1.0"]
    axes[f"xaxis{9 + k}"] = dict(
        domain=[px(590), px(698)], range=[-0.016, 1.013], tickvals=roc_ticks,
        ticktext=roc_labels, ticks="outside", ticklen=2, tickcolor="#444", mirror=True,
        showline=True, linecolor="#666", linewidth=1, showgrid=False, zeroline=False,
        anchor=ry, tickfont=dict(size=6, family=SANS, color="#222"))
    axes[f"yaxis{9 + k}"] = dict(
        domain=[py(r0 + 0.6), py(r1 - 1.5)], range=[-0.005, 1.013], tickvals=roc_ticks,
        ticktext=roc_labels, ticks="outside", ticklen=2, tickcolor="#444", mirror=True,
        showline=True, linecolor="#666", linewidth=1, showgrid=False, zeroline=False,
        anchor=rx, tickfont=dict(size=6, family=SANS, color="#222"))
    ann("Sensitivity (TPR)", px(573), py(r1 + 56), size=7, angle=-90)
    ann("1−Specificity (FPR)", px(643), py(r1 + 129), size=7)
    ann(p["model"], px(630), py(r1 + 86), size=5.5, xanchor="left")
    for j, (yr, col, auc) in enumerate(zip(roc_years, roc_colors, p["auc"])):
        yy = r1 + 93.3 + 7.5 * j
        shapes.append(dict(type="line", xref="paper", yref="paper", x0=px(631.5), x1=px(638.5),
                           y0=py(yy), y1=py(yy), line=dict(color=col, width=1.3)))
        ann(f"{yr} (AUC = {auc:.3f})", px(640), py(yy), size=5.2, xanchor="left")

fig.update_layout(
    width=W, height=H, margin=dict(l=0, r=0, t=0, b=0), paper_bgcolor="white",
    plot_bgcolor="white", showlegend=False, annotations=annotations, shapes=shapes,
    uniformtext=dict(minsize=6, mode="show"),
    font=dict(family=SANS), **axes)

# the page body has a default 8px margin; drop it so the figure sits at (0, 0)
fig.write_html("out.html", config={"displayModeBar": False, "staticPlot": True},
               post_script="document.body.style.margin='0';"
                           "document.body.style.overflow='hidden';")
